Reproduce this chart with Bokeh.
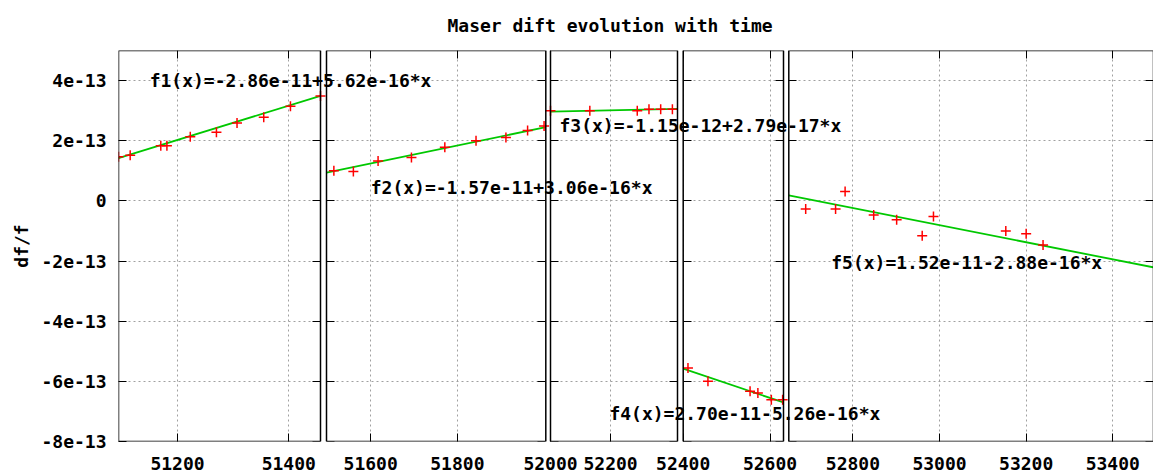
from bokeh.plotting import figure
from bokeh.models import (Range1d, LinearAxis, FixedTicker, Grid, BoxAnnotation, Label,
                          CustomJSTickFormatter)
from bokeh.embed import file_html
from bokeh.resources import INLINE

# ---------------- data ----------------
TITLE = "Maser dift evolution with time"
Y_LABEL = "df/f"
Y_MIN, Y_MAX = -8e-13, 5e-13
Y_TICKS = [-8e-13, -6e-13, -4e-13, -2e-13, 0.0, 2e-13, 4e-13]

P1_RANGE = [51094, 51457]
P1_TICKS = [51200, 51400]
P1_X = [51094, 51115, 51170, 51181, 51223, 51270, 51307, 51355, 51403, 51457]
P1_Y = [1.47e-13, 1.52e-13, 1.83e-13, 1.83e-13, 2.13e-13, 2.28e-13, 2.59e-13, 2.78e-13, 3.15e-13, 3.49e-13]
P1_FIT = [1.42e-13, 3.49e-13]
P1_LABEL = "f1(x)=-2.86e-11+5.62e-16*x"

P2_RANGE = [51498, 52004]
P2_TICKS = [51600, 51800]
P2_X = [51515, 51560, 51617, 51694, 51771, 51843, 51912, 51962, 52000]
P2_Y = [1.00e-13, 0.98e-13, 1.33e-13, 1.44e-13, 1.78e-13, 2.00e-13, 2.11e-13, 2.34e-13, 2.49e-13]
P2_FIT = [0.94e-13, 2.45e-13]
P2_LABEL = "f2(x)=-1.57e-11+3.06e-16*x"

P3_RANGE = [52000, 52423]
P3_TICKS = [52000, 52200]
P3_X = [52000, 52131, 52289, 52328, 52367, 52406]
P3_Y = [3.00e-13, 3.00e-13, 3.00e-13, 3.05e-13, 3.05e-13, 3.05e-13]
P3_FIT = [2.97e-13, 3.06e-13]
P3_LABEL = "f3(x)=-1.15e-12+2.79e-17*x"

P4_RANGE = [52400, 52631]
P4_TICKS = [52400, 52600]
P4_X = [52411, 52457, 52554, 52572, 52603, 52629]
P4_Y = [-5.56e-13, -6.00e-13, -6.33e-13, -6.39e-13, -6.61e-13, -6.61e-13]
P4_FIT = [-5.58e-13, -6.70e-13]
P4_LABEL = "f4(x)=2.70e-11-5.26e-16*x"

P5_RANGE = [52652, 53494]
P5_TICKS = [52800, 53000, 53200, 53400]
P5_X = [52691, 52760, 52782, 52848, 52901, 52960, 52986, 53153, 53200, 53239]
P5_Y = [-0.27e-13, -0.27e-13, 0.31e-13, -0.47e-13, -0.63e-13, -1.16e-13, -0.52e-13, -1.00e-13, -1.09e-13, -1.47e-13]
P5_FIT = [0.18e-13, -2.21e-13]
P5_LABEL = "f5(x)=1.52e-11-2.88e-16*x"

# ---------------- layout / style ----------------
W, H = 1153, 474
FRAME_L, FRAME_R = 118, 1153
PANEL_PX = [(118, 320), (326, 545.3), (550, 677), (682.7, 783), (788.3, 1153)]
LABEL_POS = [(51150, 4.0e-13), (51600, 0.45e-13), (52030, 2.5e-13), (52230, -7.08e-13), (52750, -2.05e-13)]
FONT = "DejaVu Sans Mono"
FSIZE = "18px"
GRID_COLOR = "#a0a0a0"

panels = [
    (P1_RANGE, P1_TICKS, P1_X, P1_Y, P1_FIT, P1_LABEL),
    (P2_RANGE, P2_TICKS, P2_X, P2_Y, P2_FIT, P2_LABEL),
    (P3_RANGE, P3_TICKS, P3_X, P3_Y, P3_FIT, P3_LABEL),
    (P4_RANGE, P4_TICKS, P4_X, P4_Y, P4_FIT, P4_LABEL),
    (P5_RANGE, P5_TICKS, P5_X, P5_Y, P5_FIT, P5_LABEL),
]


def extended_bounds(rng, px):
    """Range that makes the panel's data range land on its own slice of the shared frame."""
    a, b = rng
    L, R = px
    s = (R - L) / (b - a)
    return a - (L - FRAME_L) / s, b + (FRAME_R - R) / s


bounds = [extended_bounds(pn[0], PANEL_PX[i]) for i, pn in enumerate(panels)]
ranges = {f"p{i+1}": Range1d(start=b0, end=b1) for i, (b0, b1) in enumerate(bounds)}

p = figure(width=W, height=H, output_backend="svg", toolbar_location=None,
           x_range=Range1d(start=bounds[0][0], end=bounds[0][1]),
           y_range=Range1d(Y_MIN, Y_MAX), x_axis_type=None,
           min_border_left=FRAME_L, min_border_right=0, min_border_top=50, min_border_bottom=33)
p.extra_x_ranges = ranges
p.outline_line_color = None
p.ygrid.visible = False

# title
p.title.text = TITLE
p.title.text_font = FONT
p.title.text_font_size = FSIZE
p.title.text_font_style = "bold"
p.title.text_color = "black"
p.title.align = "left"
p.title.offset = 329
p.title.vertical_align = "top"
p.title.standoff = 25

# main y axis
yax = p.yaxis[0]
yax.ticker = FixedTicker(ticks=Y_TICKS)
yax.formatter = CustomJSTickFormatter(code="""
if (Math.abs(tick) < 1e-20) { return "0"; }
return Math.round(tick / 1e-13) + "e-13";
""")
yax.major_tick_in = 8
yax.major_tick_out = 0
yax.minor_tick_line_color = None
yax.axis_line_color = None
yax.major_tick_line_color = "black"
yax.major_label_standoff = 12
yax.major_label_text_font = FONT
yax.major_label_text_font_size = FSIZE
yax.major_label_text_font_style = "bold"
yax.major_label_text_color = "black"
yax.axis_label = Y_LABEL
yax.axis_label_text_font = FONT
yax.axis_label_text_font_size = FSIZE
yax.axis_label_text_font_style = "bold"
yax.axis_label_text_color = "black"
yax.axis_label_standoff = 6

# shared bottom axis: each panel's tick value placed where that panel's own scale puts it
s_main = (bounds[0][1] - bounds[0][0])
tick_pos, tick_txt = [], []
for i, pn in enumerate(panels):
    b0, b1 = bounds[i]
    for t in pn[1]:
        frac = (t - b0) / (b1 - b0)
        pos = bounds[0][0] + frac * s_main
        tick_pos.append(pos)
        tick_txt.append(str(t))
bx = LinearAxis(ticker=FixedTicker(ticks=tick_pos),
                major_label_overrides={pos: txt for pos, txt in zip(tick_pos, tick_txt)},
                major_tick_in=8, major_tick_out=0, minor_tick_line_color=None,
                axis_line_color=None, major_label_standoff=15,
                major_label_text_line_height=1.0,
                major_label_text_font=FONT, major_label_text_font_size=FSIZE,
                major_label_text_font_style="bold", major_label_text_color="black")
p.add_layout(bx, "below")

for i, (rng, ticks, xs, ys, fit, label) in enumerate(panels):
    name = f"p{i+1}"
    # grids
    p.add_layout(Grid(dimension=0, ticker=FixedTicker(ticks=ticks), x_range_name=name,
                      grid_line_color=GRID_COLOR, grid_line_dash="2 3", grid_line_width=1))
    p.add_layout(Grid(dimension=1, ticker=FixedTicker(ticks=Y_TICKS), x_range_name=name,
                      cross_bounds=(rng[0], rng[1]),
                      grid_line_color=GRID_COLOR, grid_line_dash="2 3", grid_line_width=1))
    # top mirror ticks
    tx = LinearAxis(x_range_name=name, fixed_location=Y_MAX, ticker=FixedTicker(ticks=ticks),
                    major_tick_in=8, major_tick_out=0, minor_tick_line_color=None,
                    axis_line_color=None, major_label_text_color=None)
    p.add_layout(tx, "above")
    # y mirror ticks on panel edges
    if i > 0:
        ly = LinearAxis(x_range_name=name, fixed_location=rng[0], ticker=FixedTicker(ticks=Y_TICKS),
                        major_tick_in=8, major_tick_out=0, minor_tick_line_color=None,
                        axis_line_color=None, major_label_text_color=None)
        p.add_layout(ly, "left")
    ry = LinearAxis(x_range_name=name, fixed_location=rng[1], ticker=FixedTicker(ticks=Y_TICKS),
                    major_tick_in=8, major_tick_out=0, minor_tick_line_color=None,
                    axis_line_color=None, major_label_text_color=None)
    p.add_layout(ry, "right")
    # fit line and points
    p.line(x=rng, y=fit, x_range_name=name, line_color="#00c800", line_width=1.8)
    p.scatter(x=xs, y=ys, x_range_name=name, marker="cross", size=10,
              line_color="#ff0000", line_width=1.5)

for i, (rng, ticks, xs, ys, fit, label) in enumerate(panels):
    name = f"p{i+1}"
    p.add_layout(BoxAnnotation(left=rng[0], right=rng[1], bottom=Y_MIN, top=Y_MAX,
                               x_range_name=name, fill_color=None, line_color="black",
                               line_alpha=1.0, line_width=1.5))

for i, (rng, ticks, xs, ys, fit, label) in enumerate(panels):
    name = f"p{i+1}"
    lx, ly_ = LABEL_POS[i]
    p.add_layout(Label(x=lx, y=ly_, x_range_name=name, text=label, text_font=FONT,
                       text_font_size=FSIZE, text_font_style="bold", text_color="black",
                       text_baseline="middle", text_align="left"))

open("out.html", "w").write(file_html(p, INLINE))
